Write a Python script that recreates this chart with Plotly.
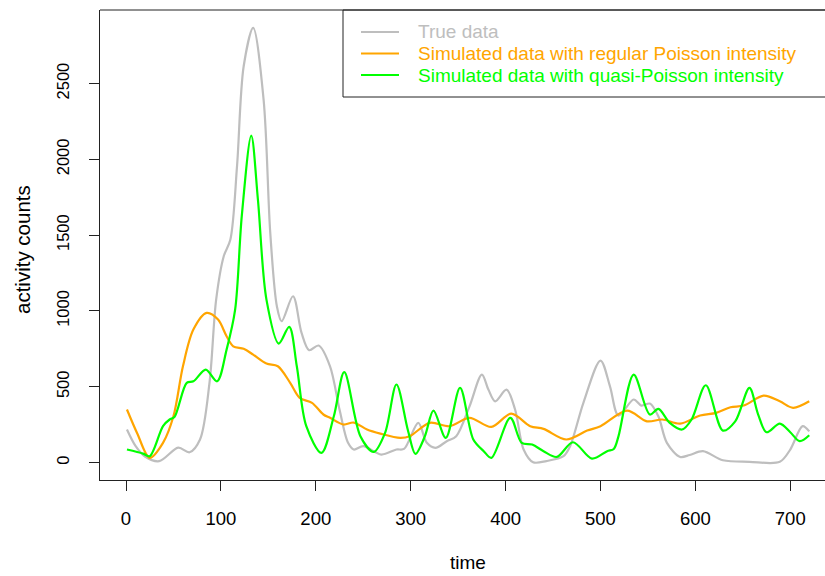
import plotly.graph_objects as go

# ---- data ----
true_t = [1, 10, 20, 35, 55, 67, 78, 88, 95, 103, 110, 117, 124, 134, 145, 152, 159, 164, 176, 185, 193,
          203, 215, 225, 234, 240, 250, 269, 285, 293, 308, 317, 326, 338, 348, 362, 375, 382, 389, 401,
          410, 419, 429, 443, 461, 468, 482, 500, 510, 519, 535, 543, 552, 561, 570, 584, 594, 608, 629,
          657, 689, 700, 713, 720]
true_v = [218, 110, 40, 9, 98, 68, 152, 527, 1075, 1361, 1471, 1955, 2614, 2867, 2394, 1517, 1031, 932,
          1097, 855, 741, 772, 635, 350, 130, 86, 108, 53, 86, 90, 262, 130, 97, 141, 174, 371, 580, 480,
          404, 481, 350, 86, 2, 10, 42, 108, 394, 673, 503, 310, 416, 376, 389, 305, 130, 37, 50, 75, 15,
          5, 5, 86, 240, 206]

pois_t = [1, 12, 25, 39, 50, 60, 71, 85, 97, 106, 113, 124, 134, 148, 160, 173, 183, 196, 208, 215, 229,
          240, 254, 268, 289, 299, 320, 341, 362, 385, 406, 426, 440, 464, 486, 500, 528, 549, 565, 584,
          605, 622, 637, 651, 672, 689, 703, 720]
pois_v = [350, 190, 31, 130, 305, 635, 877, 987, 943, 833, 767, 750, 712, 653, 635, 526, 427, 394, 317,
          295, 251, 264, 218, 191, 163, 174, 262, 240, 295, 235, 323, 240, 222, 152, 211, 240, 343, 272,
          284, 257, 310, 328, 365, 376, 442, 404, 361, 404]

quasi_t = [1, 18, 25, 39, 46, 51, 64, 71, 84, 96, 106, 115, 122, 132, 139, 148, 161, 172, 180, 190, 206,
           219, 230, 247, 261, 273, 285, 297, 305, 315, 324, 337, 352, 366, 377, 385, 405, 417, 428, 440,
           454, 471, 491, 507, 514, 519, 535, 552, 561, 573, 586, 596, 611, 629, 642, 657, 666, 675, 689,
           700, 710, 720]
quasi_v = [86, 59, 42, 240, 284, 300, 526, 536, 613, 536, 745, 1009, 1625, 2157, 1735, 1075, 785, 895,
           635, 240, 64, 305, 596, 174, 70, 196, 515, 215, 57, 174, 343, 163, 493, 152, 75, 31, 295, 130,
           119, 75, 37, 134, 26, 75, 90, 174, 580, 317, 354, 262, 218, 284, 510, 211, 272, 493, 320, 200,
           257, 200, 141, 180]

x_ticks = [0, 100, 200, 300, 400, 500, 600, 700]
y_ticks = [0, 500, 1000, 1500, 2000, 2500]

series_names = ["True data",
                "Simulated data with regular Poisson intensity",
                "Simulated data with quasi-Poisson intensity"]
series_colors = ["#BEBEBE", "#FFA500", "#00FF00"]

FONT = "Liberation Sans, Arial, sans-serif"
FS = 19

W, H = 825, 576
ML, MR, MT, MB = 100, 0, 10, 96
PW, PH = W - ML - MR, H - MT - MB


def px2paper_x(px):
    return (px - ML) / PW


def px2paper_y(py):
    return (H - MB - py) / PH


fig = go.Figure()
for (t, v), name, col in zip([(true_t, true_v), (pois_t, pois_v), (quasi_t, quasi_v)],
                             series_names, series_colors):
    fig.add_trace(go.Scatter(x=t, y=v, mode="lines", name=name,
                             line=dict(color=col, width=2.2, shape="spline", smoothing=0.9),
                             showlegend=False))

shapes = []
annotations = []
# top border of the plot box
shapes.append(dict(type="line", xref="paper", yref="paper", x0=0, x1=1.05, y0=1, y1=1,
                   line=dict(color="#222", width=1)))
# legend box
shapes.append(dict(type="rect", xref="paper", yref="paper",
                   x0=px2paper_x(343), x1=1.2, y0=px2paper_y(97), y1=1,
                   line=dict(color="#222", width=1), fillcolor="rgba(0,0,0,0)"))
rows = [32, 53.5, 75]
for name, col, ry in zip(series_names, series_colors, rows):
    shapes.append(dict(type="line", xref="paper", yref="paper",
                       x0=px2paper_x(361), x1=px2paper_x(399), y0=px2paper_y(ry), y1=px2paper_y(ry),
                       line=dict(color=col, width=2.2)))
    annotations.append(dict(text=name, xref="paper", yref="paper", x=px2paper_x(416),
                            y=px2paper_y(ry), xanchor="left", yanchor="middle", showarrow=False,
                            font=dict(family=FONT, size=FS, color=col)))

annotations.append(dict(text="time", xref="paper", yref="paper", x=px2paper_x(468),
                        y=px2paper_y(562), xanchor="center", yanchor="middle", showarrow=False,
                        font=dict(family=FONT, size=FS, color="black")))
annotations.append(dict(text="activity counts", xref="paper", yref="paper", x=px2paper_x(22),
                        y=px2paper_y(250), xanchor="center", yanchor="middle", showarrow=False,
                        textangle=-90, font=dict(family=FONT, size=20.5, color="black")))

fig.update_layout(
    width=W, height=H,
    margin=dict(l=ML, r=MR, t=MT, b=MB, pad=0),
    paper_bgcolor="white", plot_bgcolor="white",
    font=dict(family=FONT, size=FS, color="black"),
    shapes=shapes, annotations=annotations,
    xaxis=dict(range=[-27.4, 736.6], tickvals=x_ticks, ticks="outside", ticklen=10,
               tickcolor="#222", showline=True, linecolor="#222", linewidth=1,
               showgrid=False, zeroline=False, ticklabelstandoff=12,
               tickfont=dict(family=FONT, size=18.5)),
    yaxis=dict(range=[-115, 2985], tickvals=y_ticks, ticks="outside", ticklen=10,
               tickcolor="#222", showline=True, linecolor="#222", linewidth=1,
               showgrid=False, zeroline=False, tickangle=-90, ticklabelstandoff=13,
               tickfont=dict(family=FONT, size=16.5)),
)

fig.write_html("out.html")
